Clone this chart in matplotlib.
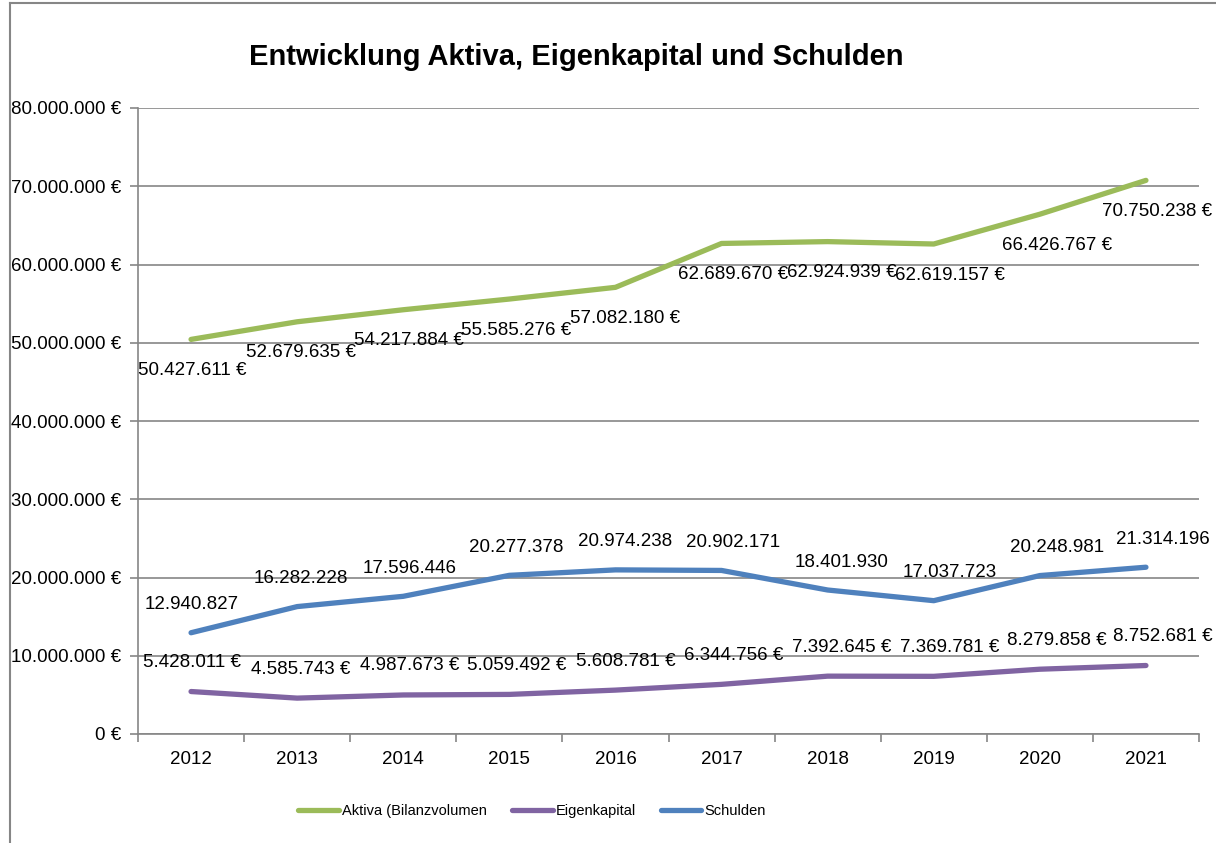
import matplotlib
matplotlib.use("Agg")
import matplotlib.pyplot as plt
from matplotlib.lines import Line2D
from matplotlib.ticker import FuncFormatter, MultipleLocator

plt.rcParams["font.family"] = ["Liberation Sans", "DejaVu Sans"]

YEARS = ["2012", "2013", "2014", "2015", "2016", "2017", "2018", "2019", "2020", "2021"]
AKTIVA = [50427611, 52679635, 54217884, 55585276, 57082180,
          62689670, 62924939, 62619157, 66426767, 70750238]
EIGENKAPITAL = [5428011, 4585743, 4987673, 5059492, 5608781,
                6344756, 7392645, 7369781, 8279858, 8752681]
SCHULDEN = [12940827, 16282228, 17596446, 20277378, 20974238,
            20902171, 18401930, 17037723, 20248981, 21314196]

GREEN, PURPLE, BLUE = "#9BBB59", "#8064A2", "#4F81BD"
GREY = "#868686"
# horizontal nudge of the data labels (pixels), as Excel placed them
LABEL_DX = [1, 4, 6, 7, 10, 12, 14, 16, 17, 17]
AKTIVA_DX = [1, 4, 6, 7, 10, 12, 14, 16, 17, 11]


def de(v):
    return f"{v:,.0f}".replace(",", ".")


fig = plt.figure(figsize=(12.16, 8.43), dpi=100)
ax = fig.add_axes([138 / 1216, 1 - 734 / 843, (1199 - 138) / 1216, (734 - 108) / 843])

x = list(range(len(YEARS)))
ax.plot(x, AKTIVA, color=GREEN, lw=3.8, solid_capstyle="round", label="Aktiva (Bilanzvolumen", zorder=3)
ax.plot(x, EIGENKAPITAL, color=PURPLE, lw=3.8, solid_capstyle="round", label="Eigenkapital", zorder=3)
ax.plot(x, SCHULDEN, color=BLUE, lw=3.8, solid_capstyle="round", label="Schulden", zorder=3)

fs = 13.5
for i, v in enumerate(AKTIVA):
    ax.annotate(de(v) + " €", (i, v), xytext=(AKTIVA_DX[i], -31), textcoords="offset pixels",
                ha="center", va="center", fontsize=fs)
for i, v in enumerate(SCHULDEN):
    ax.annotate(de(v), (i, v), xytext=(LABEL_DX[i], 28), textcoords="offset pixels",
                ha="center", va="center", fontsize=fs)
for i, v in enumerate(EIGENKAPITAL):
    ax.annotate(de(v) + " €", (i, v), xytext=(LABEL_DX[i], 29), textcoords="offset pixels",
                ha="center", va="center", fontsize=fs)

ax.set_xlim(-0.5, len(YEARS) - 0.5)
ax.set_ylim(0, 80000000)
ax.yaxis.set_major_locator(MultipleLocator(10000000))
ax.yaxis.set_major_formatter(FuncFormatter(lambda v, p: de(v) + " €"))
ax.set_xticks(x)
ax.set_xticklabels(YEARS)
ax.set_xticks([i - 0.5 for i in range(len(YEARS) + 1)], minor=True)
ax.tick_params(axis="x", which="major", length=0, pad=12, labelsize=fs)
ax.tick_params(axis="x", which="minor", length=6, color=GREY, width=1.2)
ax.tick_params(axis="y", length=6, color=GREY, width=1.2, pad=6, labelsize=fs)

ax.grid(axis="y", color=GREY, lw=1.2, zorder=0)
ax.set_axisbelow(True)
for s in ("top", "right"):
    ax.spines[s].set_visible(False)
for s in ("left", "bottom"):
    ax.spines[s].set_color(GREY)
    ax.spines[s].set_linewidth(1.2)

fig.text(576 / 1216, 1 - 57 / 843, "Entwicklung Aktiva, Eigenkapital und Schulden",
         ha="center", va="center", fontsize=21, fontweight="bold")

ax.legend(loc="center", bbox_to_anchor=(532 / 1216, 1 - 811 / 843), bbox_transform=fig.transFigure,
          ncol=3, frameon=False, fontsize=10.5,
          handlelength=2.8, handletextpad=0.2, columnspacing=1.7)

# chart frame (only top and left edge visible in the crop)
fig.add_artist(Line2D([10 / 1216, 10 / 1216], [0, 1 - 3 / 843], color=GREY, lw=1.5))
fig.add_artist(Line2D([10 / 1216, 1], [1 - 3 / 843, 1 - 3 / 843], color=GREY, lw=1.5))

fig.savefig("out.png", dpi=100)
